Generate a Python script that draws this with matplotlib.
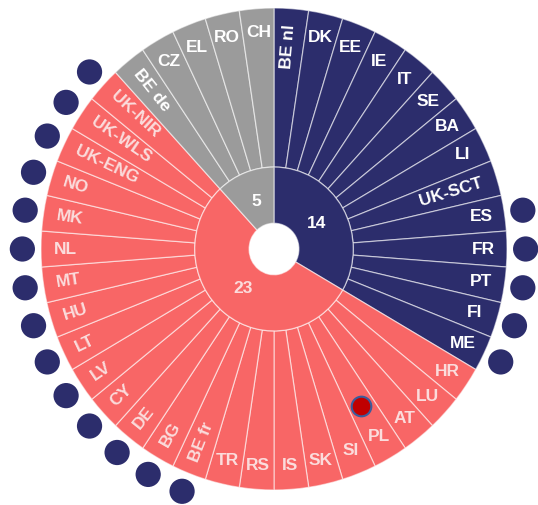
import matplotlib
matplotlib.use("Agg")
import matplotlib.pyplot as plt
import numpy as np

# ---- data ----
navy_labels = ["BE nl", "DK", "EE", "IE", "IT", "SE", "BA", "LI", "UK-SCT",
               "ES", "FR", "PT", "FI", "ME"]
salmon_labels = ["HR", "LU", "AT", "PL", "SI", "SK", "IS", "RS", "TR", "BE fr",
                 "BG", "DE", "CY", "LV", "LT", "HU", "MT", "NL", "MK", "NO",
                 "UK-ENG", "UK-WLS", "UK-NIR"]
grey_labels = ["BE de", "CZ", "EL", "RO", "CH"]
group_counts = [len(navy_labels), len(salmon_labels), len(grey_labels)]
dot_labels = ["ES", "FR", "PT", "FI", "ME", "BE fr", "BG", "DE", "CY", "LV",
              "LT", "HU", "MT", "NL", "MK", "NO", "UK-ENG", "UK-WLS", "UK-NIR"]
red_dot_labels = ["PL"]

# ---- style ----
NAVY = "#2c2d6c"
SALMON = "#f86666"
GREY = "#9b9b9b"
PINK_TXT = "#fbdcdc"
group_colors = [NAVY, SALMON, GREY]
group_txt = ["white", PINK_TXT, "white"]
FONT = "Liberation Sans"
FS = 12.5

labels = navy_labels + salmon_labels + grey_labels
colors, txtcols = [], []
for c, tc, n in zip(group_colors, group_txt, group_counts):
    colors += [c] * n
    txtcols += [tc] * n
N = len(labels)

W, H = 538, 505
cx, cy = 274, 249
Rx, Ry = 233, 241

fig = plt.figure(figsize=(W / 100, H / 100), dpi=100)
ax = fig.add_axes([0, 0, 1, 1])

R_in = 0.34
R_hole = 0.107
edge = (1, 1, 1, 0.55)

ax.pie([1] * N, colors=colors, startangle=90, counterclock=False, radius=1.0,
       wedgeprops=dict(width=1 - R_in, edgecolor=edge, linewidth=0.9))
ax.pie(group_counts, colors=group_colors, startangle=90, counterclock=False,
       radius=R_in, wedgeprops=dict(width=R_in - R_hole, edgecolor=edge, linewidth=0.9))

ax.set_xlim(-cx / Rx, (W - cx) / Rx)
ax.set_ylim(-(H - cy) / Ry, cy / Ry)
ax.set_aspect("auto")
ax.axis("off")

step = 360.0 / N
for i, (lab, tc) in enumerate(zip(labels, txtcols)):
    th = (90 - (i + 0.5) * step) % 360
    t = np.deg2rad(th)
    rotated = len(lab) > 2 or (140 <= th <= 250)
    if rotated:
        if 90 < th < 270:
            rot, ha, r = th - 180, "left", 0.945
        else:
            rot, ha, r = (th if th < 90 else th - 360), "right", 0.935
        ax.text(r * np.cos(t), r * np.sin(t), lab, rotation=rot, ha=ha, va="center",
                rotation_mode="anchor", color=tc, fontsize=FS, fontweight="bold",
                family=FONT)
    else:
        r = 0.9
        ax.text(r * np.cos(t), r * np.sin(t), lab, ha="center", va="center",
                color=tc, fontsize=FS, fontweight="bold", family=FONT)

# group counts in the inner ring
start = 90.0
for n, tc in zip(group_counts, group_txt):
    mid = np.deg2rad(start - n * step / 2)
    ax.text(0.21 * np.cos(mid), 0.21 * np.sin(mid), str(n), ha="center", va="center",
            color=tc, fontsize=FS, fontweight="bold", family=FONT)
    start -= n * step

# outer dots
idx = [labels.index(l) for l in dot_labels]
ang = np.deg2rad(90 - (np.array(idx) + 0.5) * step)
ax.scatter(1.08 * np.cos(ang), 1.08 * np.sin(ang), s=330, color=NAVY,
           edgecolors="none", zorder=5, clip_on=False)

# red dot
idx = [labels.index(l) for l in red_dot_labels]
ang = np.deg2rad(90 - (np.array(idx) + 0.5) * step)
ax.scatter(0.75 * np.cos(ang), 0.75 * np.sin(ang), s=200, color="#c00000",
           edgecolors="#3a5c9c", linewidths=1.5, zorder=6)

fig.savefig("out.png", dpi=100)
